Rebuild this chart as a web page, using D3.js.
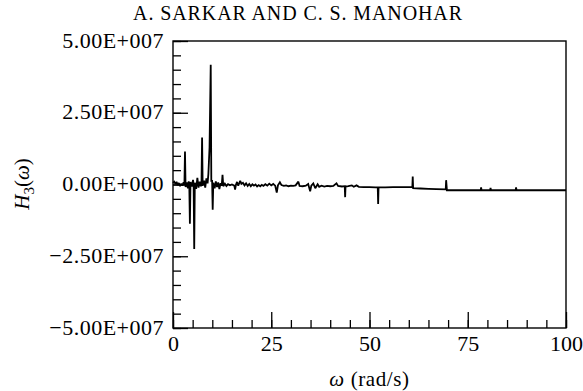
<!DOCTYPE html>
<html>
<head>
<meta charset="utf-8">
<script src="https://cdn.jsdelivr.net/npm/d3@7"></script>
<style>
  body { margin: 0; background: #fff; }
  text { font-family: "Liberation Serif", "Times New Roman", serif; fill: #000; }
</style>
</head>
<body>
<div id="chart"></div>
<script>
// frequency (rad/s)
const omega = [
  0.0, 0.3, 0.6, 0.9, 1.2, 1.5, 1.8, 2.1, 2.4, 2.7, 2.9, 3.05, 3.2, 3.5, 3.8, 4.0, 4.15, 4.3, 4.45, 4.8,
  5.1, 5.25, 5.4, 5.55, 5.9, 6.2, 6.5, 6.8, 7.1, 7.25, 7.4, 7.55, 7.9, 8.2, 8.5, 8.8, 9.0, 9.3, 9.6, 9.75,
  9.95, 10.1, 10.25, 10.6, 10.9, 11.2, 11.5, 11.8, 12.1, 12.4, 12.6, 12.8, 13.2, 13.6, 14.0, 14.5, 15.0, 15.6, 15.8, 16.0,
  16.3, 16.6, 17.1, 17.4, 17.8, 18.2, 18.6, 19.0, 19.4, 19.8, 20.2, 20.6, 21.0, 21.4, 21.8, 22.2, 22.6, 23.0, 23.5, 24.0,
  24.5, 25.0, 25.5, 26.0, 26.4, 26.7, 27.2, 27.6, 28.2, 28.8, 29.4, 30.0, 30.6, 31.2, 31.9, 32.2, 33.0, 33.8, 34.4, 34.9,
  35.2, 35.7, 36.2, 36.8, 37.2, 37.8, 38.5, 39.2, 40.0, 40.8, 41.6, 42.0, 43.0, 43.7, 43.8, 43.9, 44.6, 45.5, 46.0, 46.7,
  47.3, 48.5, 50.0, 51.5, 52.1, 52.2, 52.3, 54.0, 56.0, 58.0, 60.0, 60.9, 61.0, 61.1, 63.0, 65.0, 67.0, 69.4, 69.5, 69.7,
  72.0, 75.0, 78.3, 78.4, 78.5, 80.7, 80.8, 80.9, 84.0, 87.2, 87.3, 87.4, 90.0, 95.0, 100.0
];
// H3(omega), in units of 1E+006
const h3 = [
  0.6, 1.0, 0.2, 0.9, -0.2, 0.5, -0.6, 0.3, -0.4, 0.8, -0.3, 11.5, -0.9, 0.7, -1.3, 1.1, -0.5, -13.7, 0.9, -0.7,
  1.6, -0.4, -22.5, 0.6, -1.5, 2.3, -1.1, 1.0, -0.6, 0.4, 16.4, -0.4, 1.3, -1.1, 2.1, 0.4, 3.6, 13.0, 41.7, 1.0,
  1.6, -8.8, 0.6, -1.3, 1.1, -0.9, 0.7, -1.6, 0.5, -0.4, 3.4, -0.6, 0.3, -0.5, 0.1, -0.3, 0.0, -0.4, -1.8, -0.2,
  0.9, -0.4, 1.3, 0.2, 0.6, -0.3, 0.4, -0.5, 0.2, -0.6, 0.1, -0.4, 0.0, -0.7, -0.2, -0.6, -0.1, -0.5, 0.1, -0.4,
  0.3, -0.3, 0.2, -0.4, -2.8, -0.3, 0.8, -0.2, -0.5, -0.3, -0.6, -0.4, -0.5, -0.3, 1.0, -0.5, -0.6, -0.4, 0.2, -2.4,
  -0.4, 0.4, -1.3, 0.1, -0.8, -0.4, -0.7, -0.5, -0.6, -0.5, 0.4, -0.5, -0.7, -0.6, -4.4, -0.7, -0.6, -0.3, -0.8, -0.3,
  -0.8, -0.9, -0.9, -1.0, -1.0, -6.8, -1.0, -1.0, -0.9, -0.9, -0.9, -0.9, 2.8, -1.3, -1.4, -1.5, -1.6, -1.7, 1.5, -2.0,
  -2.0, -2.0, -2.0, -1.0, -2.0, -2.0, -1.2, -2.0, -2.0, -2.0, -1.0, -2.0, -2.0, -2.0, -2.0
];

const xMajor = [0, 25, 50, 75, 100];
const yMajor = [50e6, 25e6, 0, -25e6, -50e6];
const yLabels = ["5.00E+007", "2.50E+007", "0.00E+000", "\u22122.50E+007", "\u22125.00E+007"];
const title = "A. SARKAR AND C. S. MANOHAR";

const W = 583, H = 391;
const margin = { top: 41, right: 17, bottom: 63, left: 173 };
const width = W - margin.left - margin.right;
const height = H - margin.top - margin.bottom;

const svg = d3.select("#chart").append("svg")
  .attr("width", W)
  .attr("height", H);

svg.append("text")
  .attr("x", 298)
  .attr("y", 20)
  .attr("text-anchor", "middle")
  .style("font-size", "20px")
  .style("letter-spacing", "0.9px")
  .text(title);

const g = svg.append("g")
  .attr("transform", `translate(${margin.left},${margin.top})`);

const x = d3.scaleLinear().domain([0, 100]).range([0, width]);
const y = d3.scaleLinear().domain([-50e6, 50e6]).range([height, 0]);

// minor ticks
g.append("g")
  .attr("transform", `translate(0,${height})`)
  .call(d3.axisBottom(x).tickValues(d3.range(0, 101, 5)).tickSize(-8).tickFormat(""))
  .call(a => a.select(".domain").remove());
g.append("g")
  .call(d3.axisLeft(y).tickValues(d3.range(-50e6, 50e6 + 1, 5e6)).tickSize(-8).tickFormat(""))
  .call(a => a.select(".domain").remove());

// major ticks + labels
const xAxis = g.append("g")
  .attr("transform", `translate(0,${height})`)
  .call(d3.axisBottom(x).tickValues(xMajor).tickSize(-16).tickPadding(7).tickFormat(d3.format("d")));
xAxis.select(".domain").remove();
xAxis.selectAll("text").style("font-size", "22px").attr("font-family", null);

const yAxis = g.append("g")
  .call(d3.axisLeft(y).tickValues(yMajor).tickSize(-15).tickPadding(9)
    .tickFormat((d, i) => yLabels[i]));
yAxis.select(".domain").remove();
yAxis.selectAll("text").style("font-size", "22px").style("letter-spacing", "0.5px")
  .attr("dy", "0.28em").attr("font-family", null);

g.selectAll(".tick line").attr("stroke", "#000").attr("stroke-width", 1.3);

// frame
g.append("rect")
  .attr("width", width)
  .attr("height", height)
  .attr("fill", "none")
  .attr("stroke", "#000")
  .attr("stroke-width", 1.4);

const line = d3.line()
  .x((d, i) => x(omega[i]))
  .y(d => y(d * 1e6));

g.append("path")
  .datum(h3)
  .attr("fill", "none")
  .attr("stroke", "#000")
  .attr("stroke-width", 1.8)
  .attr("stroke-linejoin", "miter")
  .attr("stroke-miterlimit", 2)
  .attr("d", line);

// axis titles
svg.append("text")
  .attr("x", margin.left + width / 2)
  .attr("y", 386)
  .attr("text-anchor", "middle")
  .style("font-size", "21px")
  .style("letter-spacing", "0.6px")
  .html('<tspan font-style="italic">\u03c9</tspan> (rad/s)');

svg.append("text")
  .attr("transform", "translate(29,184) rotate(-90)")
  .attr("text-anchor", "middle")
  .style("font-size", "21px")
  .html('<tspan font-style="italic">H</tspan><tspan font-size="15px" dy="5">3</tspan><tspan dy="-5">(</tspan><tspan font-style="italic">\u03c9</tspan>)');
</script>
</body>
</html>
